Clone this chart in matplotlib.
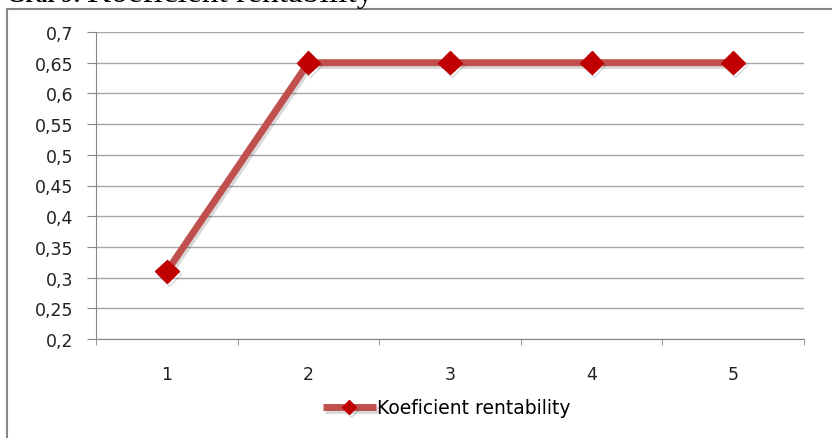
import matplotlib.pyplot as plt
import matplotlib.patheffects as pe
from matplotlib.patches import Rectangle

# data
years = ["1", "2", "3", "4", "5"]
ratio = [0.31, 0.65, 0.65, 0.65, 0.65]
series_name = "Koeficient rentability"
y_ticks = [0.2, 0.25, 0.3, 0.35, 0.4, 0.45, 0.5, 0.55, 0.6, 0.65, 0.7]

W, H = 832, 439
fig = plt.figure(figsize=(W / 100, H / 100), dpi=100)
plt.rcParams["font.family"] = ["DejaVu Sans"]

# outer chart frame (right and bottom edges fall outside the image)
fig.patches.append(Rectangle((7 / W, -0.1), 2, (H - 10) / H + 0.1,
                             transform=fig.transFigure, fill=False,
                             edgecolor="#868686", linewidth=1.5))

# title, cut off at the top like in the source document
fig.text(7 / W, 1 - 2 / H, "Graf 9:", fontsize=17, fontweight="bold",
         family="Liberation Serif", va="baseline", ha="left")
fig.text(87 / W, 1 - 2 / H, "Koeficient rentability", fontsize=24,
         family="Liberation Serif", va="baseline", ha="left")

ax = fig.add_axes([96 / W, 1 - 340 / H, (804 - 96) / W, (340 - 33) / H])
x = list(range(len(years)))
ax.plot(x, ratio, color="#C0504D", linewidth=5, solid_capstyle="butt",
        marker="D", markersize=12, markerfacecolor="#C00000",
        markeredgecolor="#C00000", zorder=3,
        path_effects=[pe.SimpleLineShadow(offset=(1.5, -2), alpha=0.15), pe.Normal()])

ax.set_xlim(-0.5, len(years) - 0.5)
ax.set_ylim(0.2, 0.7)
ax.set_yticks(y_ticks)
ax.set_yticklabels([f"{v:g}".replace(".", ",") for v in y_ticks])
ax.set_xticks(x)
ax.set_xticklabels(years)
ax.set_xticks([i - 0.5 for i in range(len(years) + 1)], minor=True)
ax.grid(axis="y", color="#A6A6A6", linewidth=1)
ax.set_axisbelow(True)
for s in ["top", "right"]:
    ax.spines[s].set_visible(False)
ax.spines["left"].set_color("#868686")
ax.spines["bottom"].set_color("#868686")
ax.tick_params(axis="x", which="major", length=0, pad=19, labelsize=12.5,
               labelcolor="#222222")
ax.tick_params(axis="x", which="minor", length=4, color="#868686")
ax.tick_params(axis="y", length=6.5, color="#868686", pad=10, labelsize=12.5,
               labelcolor="#222222")

leg = ax.legend([series_name], loc="center", bbox_to_anchor=(447 / W, 1 - 409 / H),
                bbox_transform=fig.transFigure, frameon=False, handlelength=2.8,
                handletextpad=0.1, prop={"size": 13.5})
for line in leg.get_lines():
    line.set_markersize(7)
    line.set_linewidth(5)

fig.savefig("out.png", dpi=100)
